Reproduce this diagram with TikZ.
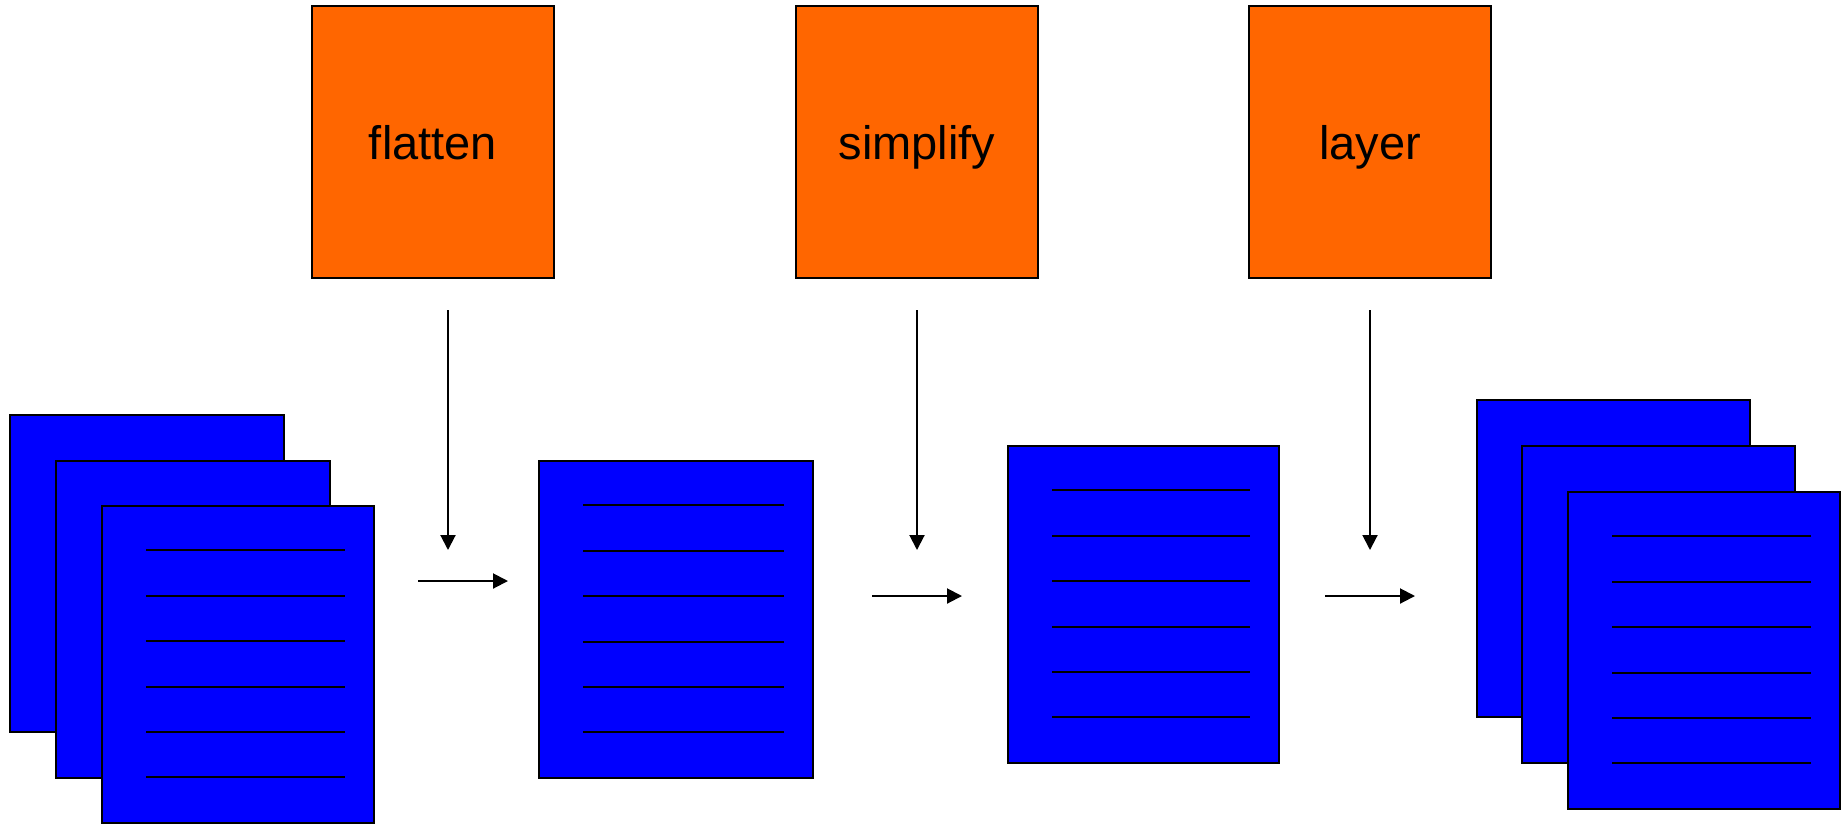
\documentclass[tikz,border=0pt]{standalone}
\usepackage{fontspec}
\setmainfont{Liberation Sans}
\usetikzlibrary{arrows.meta,calc}
\definecolor{procorange}{HTML}{FF6600}
\definecolor{pageblue}{HTML}{0000FF}
\begin{document}
\begin{tikzpicture}[x=1pt,y=-1pt,
  procbox/.style={draw=black, line width=1.5pt, fill=procorange,
    minimum width=242pt, minimum height=272pt, inner sep=0pt,
    font=\fontsize{47}{56}\selectfont, text height=34pt, text depth=0pt},
  pagebox/.style={draw=black, line width=2pt, fill=pageblue,
    minimum height=317pt, inner sep=0pt, anchor=north west},
  textline/.style={line width=2pt, draw=black},
  flow/.style={line width=2pt, draw=black, -{Triangle[length=15pt,width=15pt]}}]
\useasboundingbox (0,0) rectangle (1841,823);
% process boxes
\node[procbox] (flatten) at (433,142) {flatten};
\node[procbox] (simplify) at (917,142) {simplify};
\node[procbox] (layer) at (1370,142) {layer};
% left stack
\node[pagebox, minimum width=274pt] (L1) at (9,414) {};
\node[pagebox, minimum width=274pt] (L2) at (55,460) {};
\node[pagebox, minimum width=272pt] (L3) at (101,505) {};
% middle page
\node[pagebox, minimum width=274pt] (M) at (538,460) {};
% simplified page
\node[pagebox, minimum width=271pt] (S) at (1007,445) {};
% right stack
\node[pagebox, minimum width=273pt] (R1) at (1476,399) {};
\node[pagebox, minimum width=273pt] (R2) at (1521,445) {};
\node[pagebox, minimum width=272pt] (R3) at (1567,491) {};
% text lines on the front pages
\foreach \p in {L3,M,S,R3}{
  \foreach \i in {1,...,6}{
    \draw[textline] ($(\p.north west)+(45,45.4*\i)$) -- ($(\p.north east)+(-30,45.4*\i)$);
  }
}
% arrow end points
\coordinate (f1) at (448,310); \coordinate (f2) at (448,550);
\coordinate (s1) at (917,310); \coordinate (s2) at (917,550);
\coordinate (y1) at (1370,310); \coordinate (y2) at (1370,550);
\coordinate (h1a) at (418,581); \coordinate (h1b) at (508,581);
\coordinate (h2a) at (872,596); \coordinate (h2b) at (962,596);
\coordinate (h3a) at (1325,596); \coordinate (h3b) at (1415,596);
\draw[flow] (f1) -- (f2);
\draw[flow] (s1) -- (s2);
\draw[flow] (y1) -- (y2);
\draw[flow] (h1a) -- (h1b);
\draw[flow] (h2a) -- (h2b);
\draw[flow] (h3a) -- (h3b);
\end{tikzpicture}
\end{document}
